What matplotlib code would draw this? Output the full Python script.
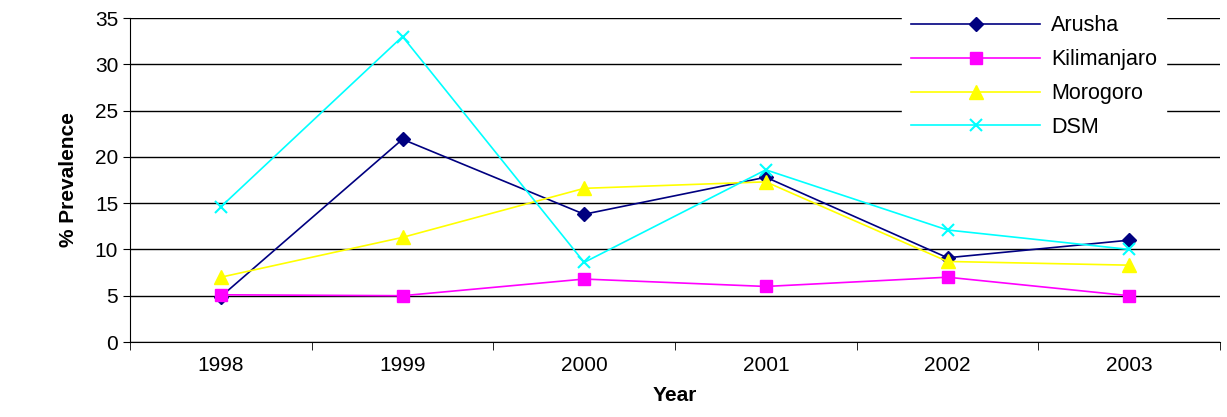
import matplotlib.pyplot as plt
import numpy as np

plt.rcParams['font.family'] = ['Liberation Sans', 'DejaVu Sans']

years = ['1998', '1999', '2000', '2001', '2002', '2003']
arusha = [4.9, 21.9, 13.8, 17.8, 9.1, 11.0]
kilimanjaro = [5.1, 5.0, 6.8, 6.0, 7.0, 5.0]
morogoro = [7.0, 11.3, 16.6, 17.3, 8.7, 8.3]
dsm = [14.6, 33.0, 8.6, 18.6, 12.1, 10.0]

fig = plt.figure(figsize=(12.27, 4.17), dpi=100)
ax = fig.add_axes([130 / 1227, 1 - 342 / 417, 1090 / 1227, 324 / 417])
x = np.arange(len(years))

ax.plot(x, arusha, color='#000080', marker='D', markersize=7, lw=1.2, label='Arusha')
ax.plot(x, kilimanjaro, color='#FF00FF', marker='s', markersize=8, lw=1.2, label='Kilimanjaro')
ax.plot(x, morogoro, color='#FFFF00', marker='^', markersize=10, lw=1.2, label='Morogoro')
ax.plot(x, dsm, color='#00FFFF', marker='x', markersize=8, mew=1.5, lw=1.2, label='DSM')

ax.set_xlim(-0.5, len(years) - 0.5)
ax.set_ylim(0, 35)
ax.set_yticks(range(0, 36, 5))
ax.yaxis.grid(True, color='black', lw=1)
ax.set_axisbelow(True)
ax.set_xticks(x)
ax.set_xticklabels(years)
ax.set_xticks(np.arange(-0.5, len(years)), minor=True)
ax.tick_params(axis='x', which='major', length=0, pad=10, labelsize=15)
ax.tick_params(axis='x', which='minor', length=6, direction='out')
ax.tick_params(axis='y', labelsize=15, direction='out', length=5)
for s in ['top', 'right']:
    ax.spines[s].set_visible(False)

ax.set_xlabel('Year', fontsize=15, fontweight='bold', labelpad=8)
ax.set_ylabel('% Prevalence', fontsize=15, fontweight='bold', labelpad=12)

leg = ax.legend(loc='upper right', bbox_to_anchor=(0.95, 1.035), frameon=True,
                fontsize=15.5, handlelength=6, handletextpad=0.5,
                labelspacing=0.6, borderaxespad=0)
leg.get_frame().set_edgecolor('white')
leg.get_frame().set_alpha(1)

fig.savefig('out.png', dpi=100)
